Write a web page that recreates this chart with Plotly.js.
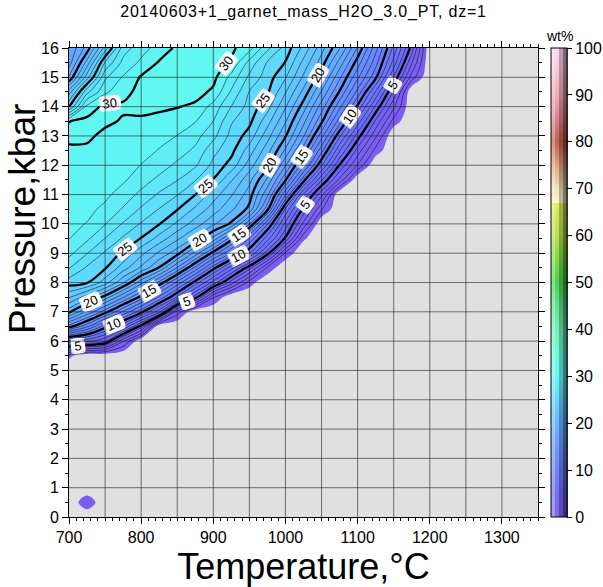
<!DOCTYPE html>
<html>
<head>
<meta charset="utf-8">
<script src="https://cdn.plot.ly/plotly-3.0.1.min.js"></script>
<style>
  html, body { margin: 0; padding: 0; background: #fff; }
  #chart { width: 603px; height: 587px; }
  #chart .gtitle { letter-spacing: 0.8px; }
</style>
</head>
<body>
<div id="chart"></div>
<script>
// Garnet mass (wt%) on a P-T grid; null = garnet not stable.
const N = null;

const temperature = [700, 725, 750, 775, 800, 825, 850, 875, 900, 925, 950,
                     975, 1000, 1025, 1050, 1075, 1100, 1125, 1150, 1175, 1200, 1225];

const pressure = [0, 0.5, 1, 1.5, 2, 2.5, 3, 3.5, 4, 4.5, 5, 5.5, 6, 6.5, 7, 7.5, 8,
                  8.5, 9, 9.5, 10, 10.5, 11, 11.5, 12, 12.5, 13, 13.5, 14, 14.5, 15, 15.5, 16];

const garnetMass = [
  /* 0.0 */ [N, N, N, N, N, N, N, N, N, N, N, N, N, N, N, N, N, N, N, N, N, N],
  /* 0.5 */ [N, 0.9, N, N, N, N, N, N, N, N, N, N, N, N, N, N, N, N, N, N, N, N],
  /* 1.0 */ [N, N, N, N, N, N, N, N, N, N, N, N, N, N, N, N, N, N, N, N, N, N],
  /* 1.5 */ [N, N, N, N, N, N, N, N, N, N, N, N, N, N, N, N, N, N, N, N, N, N],
  /* 2.0 */ [N, N, N, N, N, N, N, N, N, N, N, N, N, N, N, N, N, N, N, N, N, N],
  /* 2.5 */ [N, N, N, N, N, N, N, N, N, N, N, N, N, N, N, N, N, N, N, N, N, N],
  /* 3.0 */ [N, N, N, N, N, N, N, N, N, N, N, N, N, N, N, N, N, N, N, N, N, N],
  /* 3.5 */ [N, N, N, N, N, N, N, N, N, N, N, N, N, N, N, N, N, N, N, N, N, N],
  /* 4.0 */ [N, N, N, N, N, N, N, N, N, N, N, N, N, N, N, N, N, N, N, N, N, N],
  /* 4.5 */ [N, N, N, N, N, N, N, N, N, N, N, N, N, N, N, N, N, N, N, N, N, N],
  /* 5.0 */ [N, N, N, N, N, N, N, N, N, N, N, N, N, N, N, N, N, N, N, N, N, N],
  /* 5.5 */ [0.3, N, N, N, N, N, N, N, N, N, N, N, N, N, N, N, N, N, N, N, N, N],
  /* 6.0 */ [7.8, 7.3, 6.1, 2.1, N, N, N, N, N, N, N, N, N, N, N, N, N, N, N, N, N, N],
  /* 6.5 */ [15.5, 13.2, 10.4, 8.1, 4.5, N, N, N, N, N, N, N, N, N, N, N, N, N, N, N, N, N],
  /* 7.0 */ [20.3, 17.9, 15.4, 12.9, 10.3, 7.3, 1.5, N, N, N, N, N, N, N, N, N, N, N, N, N, N, N],
  /* 7.5 */ [23.1, 21.5, 19.6, 17.1, 14.6, 11.8, 8.8, 5.5, 1.1, N, N, N, N, N, N, N, N, N, N, N, N, N],
  /* 8.0 */ [25.5, 25.1, 23.5, 21.1, 18.4, 15.7, 12.7, 9.6, 6.6, 3.5, 0.5, N, N, N, N, N, N, N, N, N, N, N],
  /* 8.5 */ [27.1, 25.85, 25.1, 23.5, 21.8, 19.9, 16.9, 13.7, 10.4, 7.4, 4.4, 0.8, N, N, N, N, N, N, N, N, N, N],
  /* 9.0 */ [28.3, 27.05, 25.85, 24.8, 23.3, 21.8, 20.4, 17.6, 14.6, 11.9, 9.1, 5.4, 0.8, N, N, N, N, N, N, N, N, N],
  /* 9.5 */ [29.05, 28.2, 26.98, 25.85, 24.95, 23.6, 22.2, 20.8, 18.7, 15.4, 11.9, 8.4, 4.8, 0.2, N, N, N, N, N, N, N, N],
  /* 10.0 */ [29.3, 28.95, 28.05, 26.9, 25.9, 25.05, 23.8, 22.5, 21.2, 19.8, 16.1, 11.1, 6.7, 2.7, N, N, N, N, N, N, N, N],
  /* 10.5 */ [29.45, 29.3, 28.75, 27.9, 26.85, 25.95, 25.05, 23.8, 22.5, 21.2, 19.7, 15.3, 8.8, 4.7, 1.1, N, N, N, N, N, N, N],
  /* 11.0 */ [29.55, 29.45, 29.25, 28.55, 27.75, 26.85, 26.05, 25.02, 23.5, 22.1, 20.5, 17.2, 12.1, 6.9, 3.3, N, N, N, N, N, N, N],
  /* 11.5 */ [29.6, 29.55, 29.4, 29.15, 28.45, 27.75, 27.05, 26.05, 24.95, 23.1, 21.3, 18.8, 15.1, 10.4, 6.1, 2.7, N, N, N, N, N, N],
  /* 12.0 */ [29.7, 29.65, 29.5, 29.3, 28.98, 28.45, 27.8, 27.15, 25.7, 24.6, 22.5, 20.4, 17.1, 13.3, 9.1, 4.9, 1.9, N, N, N, N, N],
  /* 12.5 */ [29.85, 29.8, 29.7, 29.5, 29.3, 28.95, 28.45, 27.8, 26.3, 25.3, 23.5, 21.4, 18.8, 15.5, 11.3, 7.1, 3.6, 0.6, N, N, N, N],
  /* 13.0 */ [30.2, 30.2, 29.75, 29.6, 29.4, 29.25, 28.98, 28.35, 27.3, 25.65, 24.6, 22.4, 20.1, 17.1, 13.4, 9.2, 5.5, 2.2, N, N, N, N],
  /* 13.5 */ [29.97, 30.3, 30.2, 29.9, 29.85, 29.75, 29.5, 29.05, 27.98, 26.1, 25.25, 23.4, 21.1, 18.3, 15.2, 11.5, 7.6, 3.8, 0.6, N, N, N],
  /* 14.0 */ [24.9, 29.3, 30.3, 30.15, 30.25, 30.15, 30.05, 29.8, 28.63, 26.98, 25.6, 24.4, 22.1, 19.5, 16.5, 13.3, 9.8, 5.8, 2.2, N, N, N],
  /* 14.5 */ [22.5, 26.7, 28.8, 29.7, 30.3, 30.5, 30.5, 30.4, 29.8, 27.85, 25.95, 25.15, 23.1, 20.7, 17.9, 14.9, 11.7, 7.9, 3.8, N, N, N],
  /* 15.0 */ [19.1, 23.6, 27.8, 29.1, 30.1, 30.4, 30.6, 30.6, 30.3, 28.67, 26.77, 25.5, 24.1, 21.8, 19.3, 16.2, 13.2, 10.2, 5.9, 1.5, N, N],
  /* 15.5 */ [17.5, 21.4, 26.1, 28.3, 29.2, 30.1, 30.5, 30.6, 30.4, 29.85, 27.65, 25.9, 24.95, 22.7, 20.5, 17.6, 14.5, 11.4, 7.6, 3.1, N, N],
  /* 16.0 */ [17.1, 19.4, 23.4, 27.5, 28.6, 29.4, 30.2, 30.6, 30.5, 30.2, 29.4, 27.25, 25.6, 23.7, 21.4, 19.1, 15.9, 12.4, 8.7, 4.6, N, N]
];

// Colour table for garnet wt%
const cptValues = [0, 5, 10, 15, 20, 25, 30, 35, 40, 45, 50, 55, 60, 66.9, 67, 70, 75, 80, 85, 90, 95, 100];
const cptColors = ['#7e5cf0', '#6e68f8', '#6a7cfc', '#6696ff', '#62b4ff', '#60d4ff', '#60f8f4', '#62fcd8',
                   '#6ef0b4', '#5ae08a', '#44d048', '#78d840', '#b4e048', '#dcea58', '#fbf3c2', '#f4e2b4',
                   '#dca07a', '#c05848', '#d8808a', '#f0a8b6', '#f8c2d6', '#fcd8ee'];

const NO_DATA_GREY = '#e0e0e0';
const FONT = 'Liberation Sans, Arial, Helvetica, sans-serif';

// Filled contours: levels 0..35 step 1; bands take colorMap(level + 0.5)
const levelStart = 0, levelEnd = 35;
const nLevels = levelEnd - levelStart + 1;
const fillScale = [[0, NO_DATA_GREY]];
cptValues.forEach((v, i) => {
  if (v <= levelEnd) fillScale.push([(v - levelStart + 0.5) / nLevels, cptColors[i]]);
});
fillScale.push([1, cptColors[cptValues.indexOf(35)]]);

// Unstable field sits just below the first contour level
const BELOW_FIRST_LEVEL = -1;
const zField = garnetMass.map(row => row.map(v => (v === null ? BELOW_FIRST_LEVEL : v)));

// White backing behind the contour labels
const shadowParts = [];
[-4, -2, 0, 2, 4].forEach(dx => [-3, -1.5, 0, 1.5, 3].forEach(dy => shadowParts.push(dx + 'px ' + dy + 'px 0 #fff')));
const labelShadow = shadowParts.join(', ');

// A long (mostly empty) level list on the labelled trace makes Plotly space labels more densely
const LABELLED_LEVEL_END = 4995;

// Colour bar: shaded strips (light on the left, dark on the right) under one framed, ticked bar
function shade(hex, t) {
  const c = [1, 3, 5].map(i => parseInt(hex.slice(i, i + 2), 16));
  const s = c.map(v => Math.round(t >= 0 ? v + (255 - v) * t : v * (1 + t)));
  return 'rgb(' + s.join(',') + ')';
}
const PLOT_LEFT = 69, PLOT_W = 469;
const BAR_LEFT = 551, BAR_W = 16;
const stripShades = [0.35, 0.05, -0.25, -0.5];
const stripW = BAR_W / stripShades.length;

function barTrace(scale, cb) {
  return {
    type: 'scatter', mode: 'markers', x: [null], y: [null], hoverinfo: 'skip', showlegend: false,
    marker: { color: [0], cmin: 0, cmax: 100, colorscale: scale, showscale: true, colorbar: cb }
  };
}
const barBase = {
  xanchor: 'left', xpad: 0, y: 0, yanchor: 'bottom', ypad: 0,
  len: 1, lenmode: 'fraction', thicknessmode: 'pixels'
};
const barTraces = stripShades.map((t, k) => barTrace(
  cptValues.map((v, i) => [v / 100, shade(cptColors[i], t)]),
  Object.assign({}, barBase, {
    x: (BAR_LEFT + k * stripW - PLOT_LEFT) / PLOT_W, thickness: stripW + 0.5,
    outlinewidth: 0, ticks: '', showticklabels: false
  })
));
barTraces.push(barTrace(
  [[0, 'rgba(0,0,0,0)'], [1, 'rgba(0,0,0,0)']],
  Object.assign({}, barBase, {
    x: (BAR_LEFT - PLOT_LEFT) / PLOT_W, thickness: BAR_W,
    outlinewidth: 1, outlinecolor: '#000',
    tickmode: 'linear', tick0: 0, dtick: 10,
    ticks: 'outside', ticklen: 5, tickcolor: '#000', tickwidth: 1,
    tickfont: { family: FONT, size: 16, color: '#000' }
  })
));

const traces = [
  {
    type: 'contour', x: temperature, y: pressure, z: zField,
    autocontour: false,
    contours: { start: levelStart, end: levelEnd, size: 1, coloring: 'fill', showlines: false },
    colorscale: fillScale, showscale: false,
    line: { width: 0 }, hoverinfo: 'skip'
  },
  {
    type: 'contour', x: temperature, y: pressure, z: zField,
    autocontour: false,
    contours: { start: 1, end: levelEnd, size: 1, coloring: 'none', showlines: true },
    line: { color: '#000', width: 0.5 }, showscale: false, hoverinfo: 'skip'
  },
  {
    type: 'contour', x: temperature, y: pressure, z: zField,
    autocontour: false,
    contours: {
      start: 5, end: LABELLED_LEVEL_END, size: 5, coloring: 'none', showlines: true,
      showlabels: true,
      labelfont: { family: FONT, size: 13, color: '#000', shadow: labelShadow }
    },
    line: { color: '#000', width: 2.3 }, showscale: false, hoverinfo: 'skip'
  }
].concat(barTraces);

// Grid every 50 degC and 1 kbar, drawn over the field
const gridT = [750, 800, 850, 900, 950, 1000, 1050, 1100, 1150, 1200, 1250, 1300];
const gridP = [1, 2, 3, 4, 5, 6, 7, 8, 9, 10, 11, 12, 13, 14, 15];
const gridLine = { color: 'rgba(30,30,30,0.6)', width: 1 };
const shapes = [];
gridT.forEach(t => shapes.push({ type: 'line', layer: 'above', xref: 'x', yref: 'paper', x0: t, x1: t, y0: 0, y1: 1, line: gridLine }));
gridP.forEach(p => shapes.push({ type: 'line', layer: 'above', xref: 'paper', yref: 'y', x0: 0, x1: 1, y0: p, y1: p, line: gridLine }));

const layout = {
  width: 603, height: 587,
  margin: { l: 69, r: 65, t: 48, b: 70, pad: 0, autoexpand: false },
  paper_bgcolor: '#fff', plot_bgcolor: NO_DATA_GREY,
  font: { family: FONT, color: '#000', size: 16 },
  showlegend: false,
  title: {
    text: '20140603+1_garnet_mass_H2O_3.0_PT, dz=1',
    font: { family: FONT, size: 16, color: '#000' },
    x: 0.5, xref: 'paper', xanchor: 'center',
    y: 1 - 11 / 587, yref: 'container', yanchor: 'middle'
  },
  xaxis: {
    range: [700, 1350], tickmode: 'linear', tick0: 700, dtick: 100,
    ticks: 'outside', ticklen: 6, tickwidth: 1, tickcolor: '#000',
    minor: { dtick: 10, ticks: 'outside', ticklen: 3, tickcolor: '#000', showgrid: false },
    showline: true, linecolor: '#000', linewidth: 1, mirror: 'ticks',
    showgrid: false, zeroline: false,
    tickfont: { family: FONT, size: 16 },
    title: { text: 'Temperature,°C', font: { family: FONT, size: 36 }, standoff: 8 }
  },
  yaxis: {
    range: [0, 16], tickmode: 'linear', tick0: 0, dtick: 1,
    ticks: 'outside', ticklen: 6, tickwidth: 1, tickcolor: '#000',
    minor: { dtick: 0.5, ticks: 'outside', ticklen: 3, tickcolor: '#000', showgrid: false },
    showline: true, linecolor: '#000', linewidth: 1, mirror: 'ticks',
    showgrid: false, zeroline: false,
    tickfont: { family: FONT, size: 16 }
  },
  shapes: shapes,
  annotations: [
    {
      text: 'wt%', xref: 'paper', yref: 'paper', x: (559 - PLOT_LEFT) / PLOT_W, y: 1,
      xanchor: 'center', yanchor: 'bottom', yshift: 2, showarrow: false,
      font: { family: FONT, size: 14, color: '#000' }
    },
    {
      text: 'Pressure,kbar', xref: 'paper', yref: 'paper',
      x: (22 - PLOT_LEFT) / PLOT_W, y: (517 - 219) / 469,
      xanchor: 'center', yanchor: 'middle', textangle: -90, showarrow: false,
      font: { family: FONT, size: 37, color: '#000' }
    }
  ]
};

Plotly.newPlot('chart', traces, layout, { staticPlot: true, displayModeBar: false });
</script>
</body>
</html>
